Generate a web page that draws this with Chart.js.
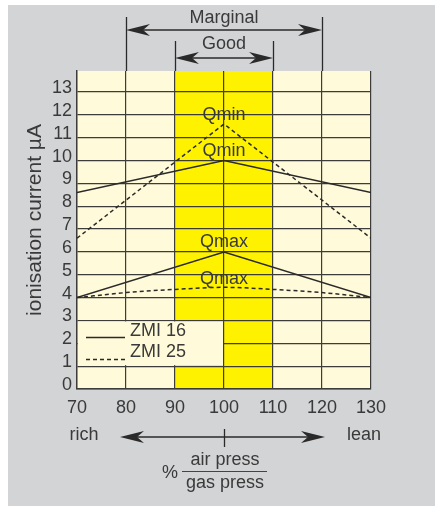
<!DOCTYPE html>
<html>
<head>
<meta charset="utf-8">
<script src="https://cdn.jsdelivr.net/npm/chart.js@4.4.1/dist/chart.umd.min.js"></script>
<style>
  html, body { margin: 0; padding: 0; background: #ffffff; }
  canvas { display: block; }
</style>
</head>
<body>
<canvas id="c" width="435" height="506" style="width:435px;height:506px"></canvas>
<script>
// ---- data ----
const ratioTicks = [70, 80, 90, 100, 110, 120, 130];
const currentTicks = [0, 1, 2, 3, 4, 5, 6, 7, 8, 9, 10, 11, 12, 13];
const seriesNames = ['ZMI 16', 'ZMI 25'];
const curveLabels = ['Qmin', 'Qmin', 'Qmax', 'Qmax'];
const rangeLabels = ['Marginal', 'Good'];
const sideLabels = ['rich', 'lean'];
const xTitleParts = ['%', 'air press', 'gas press'];
const yTitle = 'ionisation current µA';

const peakX = [70, 100, 130];
const zmi16Qmin = [8.6, 10.0, 8.6];
const zmi16Qmax = [4.0, 6.0, 4.0];
const zmi25Qmin = [6.6, 11.6, 6.6];
const zmi25QmaxX = [70, 80, 90, 100, 110, 120, 130];
const zmi25Qmax = [4.0, 4.22, 4.36, 4.45, 4.36, 4.22, 4.0];

// ---- styles ----
const INK = '#2a2a2a';
const TEXT = '#3a3a3a';
const GRID = '#3c3c3c';
const CREAM = '#fffad9';
const YELLOW = '#fff200';
const BG = '#d3d4d6';
const FONT = '"Liberation Sans", Arial, sans-serif';

function pts(xs, ys) { return xs.map((x, i) => ({ x: x, y: ys[i] })); }

function arrowHead(ctx, tipX, y, dir) {
  const len = 24, half = 6, notch = 17;
  ctx.beginPath();
  ctx.moveTo(tipX, y);
  ctx.lineTo(tipX - dir * len, y - half);
  ctx.lineTo(tipX - dir * notch, y);
  ctx.lineTo(tipX - dir * len, y + half);
  ctx.closePath();
  ctx.fill();
}
function doubleArrow(ctx, x1, x2, y) {
  ctx.beginPath();
  ctx.moveTo(x1 + 4, y);
  ctx.lineTo(x2 - 4, y);
  ctx.stroke();
  arrowHead(ctx, x1, y, -1);
  arrowHead(ctx, x2, y, 1);
}

const decor = {
  id: 'decor',
  beforeDraw(chart) {
    const ctx = chart.ctx, a = chart.chartArea, xs = chart.scales.x;
    ctx.save();
    ctx.fillStyle = '#ffffff';
    ctx.fillRect(0, 0, chart.width, chart.height);
    ctx.fillStyle = BG;
    ctx.fillRect(8, 5, chart.width - 8, chart.height - 5);
    ctx.fillStyle = CREAM;
    ctx.fillRect(a.left, a.top, a.right - a.left, a.bottom - a.top);
    ctx.fillStyle = YELLOW;
    const x90 = xs.getPixelForValue(90), x110 = xs.getPixelForValue(110);
    ctx.fillRect(x90, a.top, x110 - x90, a.bottom - a.top);
    ctx.restore();
  },
  beforeDatasetsDraw(chart) {
    const ctx = chart.ctx, a = chart.chartArea, xs = chart.scales.x, ys = chart.scales.y;
    // legend box covering [70,100] x [1,3]
    const xr = xs.getPixelForValue(100);
    const yt = ys.getPixelForValue(3), yb = ys.getPixelForValue(1);
    ctx.save();
    ctx.fillStyle = CREAM;
    ctx.fillRect(a.left + 1, yt + 1, xr - a.left - 2, yb - yt - 2);
    ctx.restore();
  },
  afterDraw(chart) {
    const ctx = chart.ctx, a = chart.chartArea, xs = chart.scales.x, ys = chart.scales.y;
    const px = v => xs.getPixelForValue(v);
    const py = v => ys.getPixelForValue(v);
    ctx.save();
    ctx.strokeStyle = INK;
    ctx.fillStyle = INK;
    ctx.lineWidth = 1.3;

    // top range markers
    [[80, 17], [120, 17], [90, 41], [110, 41]].forEach(([v, top]) => {
      ctx.beginPath();
      ctx.moveTo(Math.round(px(v)) + 0.5, top);
      ctx.lineTo(Math.round(px(v)) + 0.5, a.top);
      ctx.stroke();
    });
    doubleArrow(ctx, px(80), px(120), 30);
    doubleArrow(ctx, px(90), px(110), 58);

    ctx.fillStyle = TEXT;
    ctx.font = '18px ' + FONT;
    ctx.textAlign = 'center';
    ctx.textBaseline = 'middle';
    ctx.fillText(rangeLabels[0], px(100), 18);
    ctx.fillText(rangeLabels[1], px(100), 44);

    // curve labels
    ctx.fillText(curveLabels[0], px(100), py(12.0));
    ctx.fillText(curveLabels[1], px(100), py(10.4));
    ctx.fillText(curveLabels[2], px(100), py(6.45));
    ctx.fillText(curveLabels[3], px(100), py(4.8));

    // legend
    ctx.strokeStyle = INK;
    ctx.lineWidth = 1.4;
    ctx.beginPath();
    ctx.moveTo(86, 337.5); ctx.lineTo(125, 337.5); ctx.stroke();
    ctx.setLineDash([4, 3]);
    ctx.beginPath();
    ctx.moveTo(86, 359.5); ctx.lineTo(125, 359.5); ctx.stroke();
    ctx.setLineDash([]);
    ctx.textAlign = 'left';
    ctx.fillText(seriesNames[0], 130, 331);
    ctx.fillText(seriesNames[1], 130, 352);

    // bottom: rich / lean arrow
    ctx.textAlign = 'center';
    ctx.fillText(sideLabels[0], 84, 435);
    ctx.fillText(sideLabels[1], 364, 435);
    ctx.fillStyle = INK;
    ctx.lineWidth = 1.3;
    doubleArrow(ctx, 120, 325, 437);
    ctx.beginPath();
    ctx.moveTo(Math.round(px(100)) + 0.5, 429);
    ctx.lineTo(Math.round(px(100)) + 0.5, 447);
    ctx.stroke();

    // fraction title
    ctx.fillStyle = TEXT;
    ctx.fillText(xTitleParts[1], 225, 460);
    ctx.fillText(xTitleParts[2], 225, 483);
    ctx.fillText(xTitleParts[0], 170, 473);
    ctx.strokeStyle = '#444';
    ctx.lineWidth = 1.2;
    ctx.beginPath();
    ctx.moveTo(182, 471.5); ctx.lineTo(267, 471.5); ctx.stroke();

    // y-axis title
    ctx.translate(35, 220);
    ctx.rotate(-Math.PI / 2);
    ctx.fillStyle = TEXT;
    ctx.font = '21px ' + FONT;
    ctx.textAlign = 'center';
    ctx.textBaseline = 'middle';
    ctx.fillText(yTitle, 0, 0);
    ctx.restore();
  }
};

const lineBase = { borderColor: INK, borderWidth: 1.5, pointRadius: 0, fill: false, tension: 0 };

new Chart(document.getElementById('c'), {
  type: 'line',
  data: {
    datasets: [
      Object.assign({ label: seriesNames[0] + ' ' + curveLabels[0], data: pts(peakX, zmi16Qmin) }, lineBase),
      Object.assign({ label: seriesNames[0] + ' ' + curveLabels[2], data: pts(peakX, zmi16Qmax) }, lineBase),
      Object.assign({ label: seriesNames[1] + ' ' + curveLabels[0], data: pts(peakX, zmi25Qmin), borderDash: [4, 3] }, lineBase),
      Object.assign({ label: seriesNames[1] + ' ' + curveLabels[2], data: pts(zmi25QmaxX, zmi25Qmax), borderDash: [4, 3], cubicInterpolationMode: 'monotone' }, lineBase)
    ]
  },
  options: {
    responsive: false,
    animation: false,
    devicePixelRatio: 1,
    layout: { padding: { left: 0, top: 71, right: 64, bottom: 87 } },
    plugins: { legend: { display: false }, tooltip: { enabled: false } },
    scales: {
      x: {
        type: 'linear', min: 70, max: 130,
        afterBuildTicks: s => { s.ticks = ratioTicks.map(v => ({ value: v })); },
        afterFit: s => { s.height = 30; },
        grid: { color: GRID, lineWidth: 1.2, drawTicks: false },
        border: { color: GRID, width: 1.4 },
        ticks: { color: TEXT, font: { family: FONT, size: 18 }, padding: 8, maxRotation: 0, autoSkip: false }
      },
      y: {
        type: 'linear', min: 0, max: 13.92,
        afterBuildTicks: s => { s.ticks = currentTicks.map(v => ({ value: v })); },
        afterFit: s => { s.width = 77; },
        grid: { color: GRID, lineWidth: 1.2, drawTicks: false },
        border: { color: GRID, width: 1.4 },
        ticks: { color: TEXT, font: { family: FONT, size: 18 }, padding: 5, labelOffset: -4, autoSkip: false },
        title: { display: false }
      }
    }
  },
  plugins: [decor]
});
</script>
</body>
</html>
